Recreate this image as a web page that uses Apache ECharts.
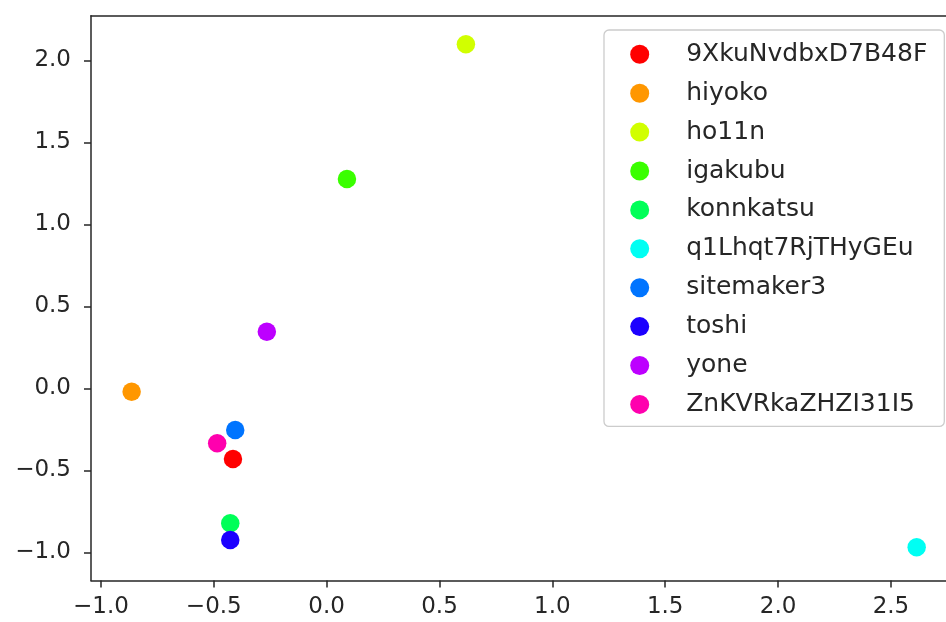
<!DOCTYPE html>
<html>
<head>
<meta charset="utf-8">
<script src="https://cdn.jsdelivr.net/npm/echarts@6/dist/echarts.min.js"></script>
<style>
  html, body { margin: 0; padding: 0; background: #fff; }
  #main { width: 946px; height: 622px; }
</style>
</head>
<body>
<div id="main"></div>
<script>
// points
const names = [
  "9XkuNvdbxD7B48F", "hiyoko", "ho11n", "igakubu", "konnkatsu",
  "q1Lhqt7RjTHyGEu", "sitemaker3", "toshi", "yone", "ZnKVRkaZHZI31I5"
];
const xValues = [-0.415, -0.864, 0.617, 0.090, -0.427, 2.614, -0.405, -0.427, -0.265, -0.485];
const yValues = [-0.430, -0.020, 2.099, 1.277, -0.822, -0.968, -0.253, -0.924, 0.346, -0.334];

const xTicks = [-1.0, -0.5, 0.0, 0.5, 1.0, 1.5, 2.0, 2.5];
const yTicks = [-1.0, -0.5, 0.0, 0.5, 1.0, 1.5, 2.0];

// hsv colormap samples
const palette = ["#ff0000", "#ff9700", "#d1ff00", "#3aff00", "#00ff58",
                 "#00fff3", "#0074ff", "#1c00ff", "#bd00ff", "#ff00ae"];

const fmt = (v) => v.toFixed(1).replace("-", "\u2212");
const axisColor = "#262626";
const spine = { show: true, onZero: false, lineStyle: { color: axisColor, width: 1.5 } };

const myChart = echarts.init(document.getElementById("main"), null, { renderer: "canvas" });

const series = names.map((n, i) => ({
  name: n,
  type: "scatter",
  symbol: "circle",
  symbolSize: 18.5,
  xAxisIndex: 0,
  itemStyle: { color: palette[i], opacity: 1 },
  emphasis: { disabled: true },
  data: [[xValues[i], yValues[i]]],
}));

// the plot is cut at the right edge of the picture, so no right spine
const xMin = -1.044;
const xMax = 2.744;

const option = {
  animation: false,
  backgroundColor: "#fff",
  color: palette,
  grid: {
    left: 91,
    right: 0,
    top: 15.7,
    bottom: 41.5,
  },
  xAxis: [
    {
      type: "value",
      min: xMin,
      max: xMax,
      position: "bottom",
      axisLine: spine,
      axisTick: { show: true, inside: false, length: 7, customValues: xTicks,
        lineStyle: { color: axisColor, width: 1.5 } },
      axisLabel: { customValues: xTicks, formatter: fmt, margin: 15,
        fontFamily: "DejaVu Sans", fontSize: 23, color: axisColor },
      splitLine: { show: false },
    },
    {
      // top spine only
      type: "value",
      min: xMin,
      max: xMax,
      position: "top",
      axisLine: spine,
      axisTick: { show: false },
      axisLabel: { show: false },
      splitLine: { show: false },
    },
  ],
  yAxis: {
    type: "value",
    min: -1.171,
    max: 2.273,
    axisLine: spine,
    axisTick: { show: true, inside: false, length: 7, customValues: yTicks,
      lineStyle: { color: axisColor, width: 1.5 } },
    axisLabel: { customValues: yTicks, formatter: fmt, margin: 20,
      fontFamily: "DejaVu Sans", fontSize: 23, color: axisColor },
    splitLine: { show: false },
  },
  legend: {
    orient: "vertical",
    left: 604,
    top: 30,
    padding: [11.8, 17, 9.5, 26.2],
    itemGap: 13.9,
    itemWidth: 19,
    itemHeight: 19,
    icon: "circle",
    selectedMode: false,
    backgroundColor: "rgba(255,255,255,0.85)",
    borderColor: "#cccccc",
    borderWidth: 1.3,
    borderRadius: 5,
    textStyle: {
      fontFamily: "DejaVu Sans",
      fontSize: 25,
      lineHeight: 25,
      color: axisColor,
      padding: [0, 0, 0, 32],
    },
    data: names,
  },
  series: series,
};

option && myChart.setOption(option);
</script>
</body>
</html>
